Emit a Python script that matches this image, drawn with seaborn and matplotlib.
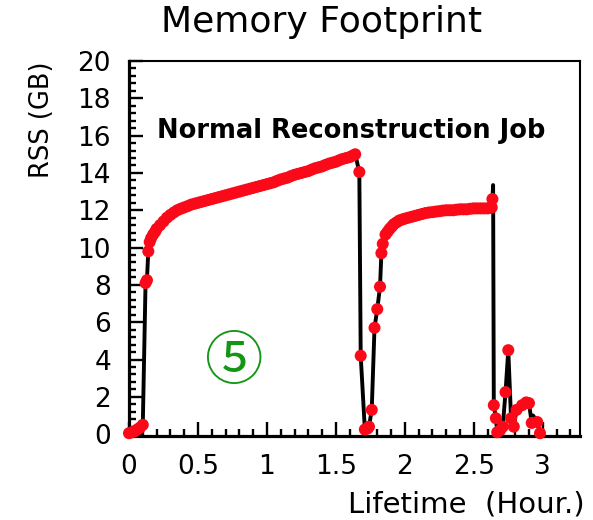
import matplotlib
matplotlib.use("Agg")
import matplotlib.pyplot as plt
from matplotlib.ticker import MultipleLocator
import seaborn as sns
import pandas as pd

# ---- data ----
# first run: start-up, ramp and slow growth
run1_hours = [0.00, 0.02, 0.04, 0.06, 0.08, 0.10, 0.12, 0.13, 0.14, 0.15,
              0.16, 0.175, 0.19, 0.20, 0.225, 0.25, 0.275, 0.30, 0.325, 0.35,
              0.375, 0.40, 0.425, 0.45, 0.475, 0.50, 0.525, 0.55, 0.575, 0.60,
              0.625, 0.65, 0.675, 0.70, 0.725, 0.75, 0.775, 0.80, 0.825, 0.85,
              0.875, 0.90, 0.925, 0.95, 0.975, 1.00, 1.025, 1.05, 1.075, 1.10,
              1.125, 1.15, 1.175, 1.20, 1.225, 1.25, 1.275, 1.30, 1.325, 1.35,
              1.375, 1.40, 1.425, 1.45, 1.475, 1.50, 1.525, 1.55, 1.575, 1.60,
              1.62, 1.64, 1.67, 1.68]
run1_rss = [0.05, 0.10, 0.15, 0.25, 0.35, 0.50, 8.10, 8.25, 9.80, 10.30,
            10.50, 10.70, 10.85, 11.00, 11.20, 11.40, 11.60, 11.75, 11.88, 12.00,
            12.08, 12.15, 12.22, 12.30, 12.35, 12.40, 12.45, 12.50, 12.55, 12.60,
            12.65, 12.70, 12.75, 12.80, 12.85, 12.90, 12.95, 13.00, 13.05, 13.10,
            13.15, 13.20, 13.25, 13.30, 13.35, 13.40, 13.45, 13.50, 13.58, 13.65,
            13.70, 13.75, 13.83, 13.90, 13.95, 14.00, 14.05, 14.10, 14.18, 14.25,
            14.30, 14.35, 14.43, 14.50, 14.55, 14.60, 14.68, 14.75, 14.80, 14.85,
            14.92, 15.00, 14.05, 4.20]
# second run
run2_hours = [1.71, 1.73, 1.74, 1.76, 1.78, 1.80, 1.82, 1.83, 1.84, 1.86,
              1.875, 1.89, 1.905, 1.92, 1.94, 1.96, 1.98, 2.00, 2.025, 2.05,
              2.075, 2.10, 2.125, 2.15, 2.175, 2.20, 2.225, 2.25, 2.275, 2.30,
              2.325, 2.35, 2.375, 2.40, 2.425, 2.45, 2.475, 2.50, 2.525, 2.55,
              2.575, 2.60, 2.615, 2.63, 2.635, 2.64, 2.645, 2.66]
run2_rss = [0.25, 0.30, 0.40, 1.30, 5.70, 6.70, 7.90, 9.70, 10.20, 10.70,
            10.85, 11.00, 11.12, 11.25, 11.35, 11.45, 11.50, 11.55, 11.60, 11.65,
            11.70, 11.75, 11.80, 11.85, 11.88, 11.90, 11.93, 11.95, 11.98, 12.00,
            12.00, 12.00, 12.03, 12.05, 12.05, 12.05, 12.08, 12.10, 12.10, 12.10,
            12.10, 12.10, 12.12, 12.15, 12.60, 13.35, 1.55, 0.85]
# tail: short jobs at the end
run3_hours = [2.67, 2.69, 2.71, 2.73, 2.75, 2.77, 2.79, 2.81, 2.85, 2.88,
              2.90, 2.92, 2.93, 2.96, 2.98]
run3_rss = [0.10, 0.20, 0.40, 2.25, 4.50, 0.85, 0.40, 1.30, 1.55, 1.70,
            1.66, 0.60, 1.00, 0.65, 0.05]
# samples drawn only by the line (no red marker)
unmarked_hours = [2.64, 2.93]

title = "Memory Footprint"
annotation = "Normal Reconstruction Job"
ylabel = "RSS (GB)"
xlabel = "Lifetime  (Hour.)"
badge = "\u2464"

df = pd.DataFrame({"hours": run1_hours + run2_hours + run3_hours,
                   "rss": run1_rss + run2_rss + run3_rss})
marked = df[~df["hours"].isin(unmarked_hours)]

sns.set_theme(style="ticks")
plt.rcParams["font.family"] = ["DejaVu Sans"]

fig = plt.figure(figsize=(5.93, 5.20), dpi=100)
ax = fig.add_axes([129 / 593, 1 - 436 / 520, 451 / 593, 375 / 520])

sns.lineplot(data=df, x="hours", y="rss", ax=ax, color="black",
             linewidth=2.8, sort=False, estimator=None, zorder=2)
sns.scatterplot(data=marked, x="hours", y="rss", ax=ax, color="#fa0a19",
                s=75, edgecolor="none", linewidth=0, zorder=4, clip_on=False)

ax.set_xlim(0, 3.27)
ax.set_ylim(-0.1, 20.0)
ax.xaxis.set_minor_locator(MultipleLocator(0.1))
ax.yaxis.set_major_locator(MultipleLocator(2))
ax.yaxis.set_minor_locator(MultipleLocator(0.4))
ax.set_xticks([0, 0.5, 1, 1.5, 2, 2.5, 3])
ax.set_xticklabels(["0", "0.5", "1", "1.5", "2", "2.5", "3"])
ax.tick_params(which="both", direction="in", top=False, right=False,
               color="black", width=1.7)
ax.tick_params(which="major", length=10, labelsize=19, pad=13,
               labelcolor="black")
ax.tick_params(which="minor", length=5)
ax.set_xlabel("")
ax.set_ylabel("")

for side in ["left", "bottom"]:
    ax.spines[side].set_linewidth(2.3)
for side in ["top", "right"]:
    ax.spines[side].set_linewidth(1.5)
for s in ax.spines.values():
    s.set_color("black")

fig.text(322 / 593, 1 - 22 / 520, title, ha="center", va="center",
         fontsize=26, color="black")
ax.text(0.062, 0.813, annotation, transform=ax.transAxes, ha="left",
        va="center", fontsize=18.5, fontweight="bold", color="black")
ax.text(-0.193, 0.843, ylabel, transform=ax.transAxes, rotation=90,
        ha="center", va="center", fontsize=18.5, color="black")
ax.text(1.011, -0.184, xlabel, transform=ax.transAxes, ha="right",
        va="center", fontsize=21, color="black")
ax.text(0.233, 0.196, badge, transform=ax.transAxes, ha="center",
        va="center", fontsize=42, color="#149614",
        family=["Noto Sans CJK JP", "DejaVu Sans"])

fig.savefig("out.png", dpi=100)
